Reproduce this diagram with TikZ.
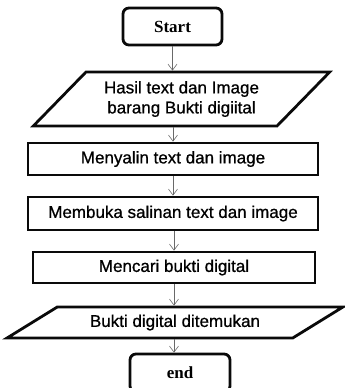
\documentclass[tikz,border=0pt]{standalone}
\usepackage{fontspec}
\setmainfont{Liberation Sans}
\newfontfamily\boxfont[FakeBold=0.8]{Liberation Sans}
\newfontfamily\termfont{Liberation Serif}
\usepackage{tikz}
\usetikzlibrary{shapes.geometric, arrows.meta, positioning}
\definecolor{myline}{RGB}{10,10,10}
\definecolor{myarrow}{RGB}{105,105,105}
\tikzset{
  terminal/.style={rectangle, draw=myline, fill=white, rounded corners=6pt,
    line width=2.8pt, font=\termfont\bfseries\fontsize{17}{19}\selectfont,
    minimum width=99pt, minimum height=37pt, inner sep=0pt},
  process/.style={rectangle, draw=myline, fill=white, line width=2.8pt,
    font=\boxfont\fontsize{17}{20}\selectfont, minimum height=32pt, inner sep=0pt},
  io/.style={trapezium, trapezium stretches=true, draw=myline, fill=white,
    line width=2.8pt, font=\boxfont\fontsize{17}{20}\selectfont, align=center,
    inner sep=0pt},
  arrow/.style={-{Straight Barb[length=6pt, width=9pt]}, color=myarrow,
    line width=0.6pt}
}
\begin{document}
\begin{tikzpicture}[x=1pt, y=-1pt]
  \useasboundingbox (0,0) rectangle (345,388);
  % flow boxes
  \node[terminal] (start) at (172.5,26.5) {Start};
  \node[io, trapezium left angle=40, trapezium right angle=140,
        minimum width=297pt, minimum height=54pt] (input) at (181.5,99)
        {Hasil text dan Image\\barang Bukti digiital};
  \node[process, minimum width=290pt] (copy) at (173,159) {Menyalin text dan image};
  \node[process, minimum width=290pt, minimum height=33pt] (open) at (173,213.5)
        {Membuka salinan text dan image};
  \node[process, minimum width=282pt, minimum height=31pt] (search) at (174,267.5)
        {Mencari bukti digital};
  \node[io, trapezium left angle=23.6, trapezium right angle=156.4,
        minimum width=336pt, minimum height=31pt] (found) at (175,322.5)
        {Bukti digital ditemukan};
  \node[terminal, minimum width=100pt, minimum height=38pt] (stop) at (180,373) {end};
  % connectors
  \draw[arrow] (start.south) -- (start.south |- input.north);
  \draw[arrow] (copy.north |- input.south) -- (copy.north);
  \draw[arrow] (copy.south) -- (open.north);
  \draw[arrow] (search.north |- open.south) -- (search.north);
  \draw[arrow] (search.south) -- (search.south |- found.north);
  \draw[arrow] (search.south |- found.south) -- (search.south |- stop.north);
\end{tikzpicture}
\end{document}
